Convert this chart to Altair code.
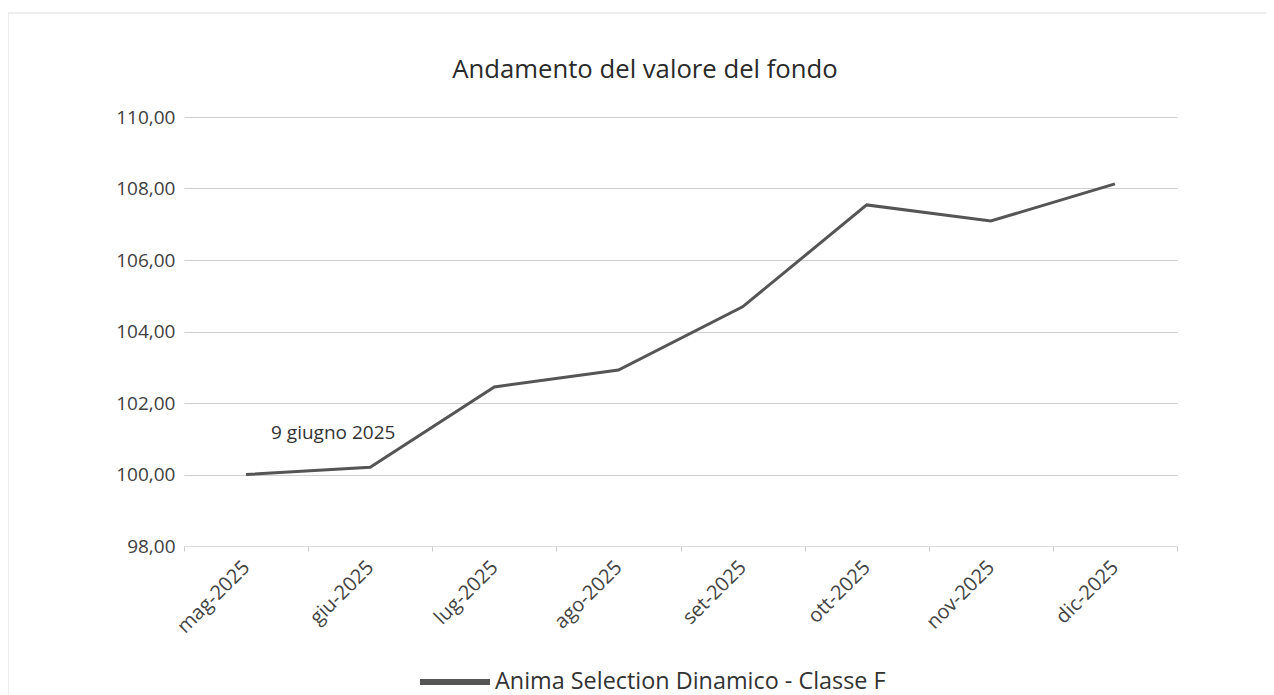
import altair as alt
import pandas as pd

months = ["mag-2025", "giu-2025", "lug-2025", "ago-2025", "set-2025", "ott-2025", "nov-2025", "dic-2025"]
values = [100.00, 100.20, 102.45, 102.92, 104.69, 107.54, 107.09, 108.13]
series_name = "Anima Selection Dinamico - Classe F"
title_text = ["Andamento del valore del fondo"]
note_text = ["9 giugno 2025"]
note_month = ["giu-2025"]
note_value = [101.16]

df = pd.DataFrame({"month": months, "value": values, "series": [series_name] * len(months)})
notes = pd.DataFrame({"month": note_month, "value": note_value, "label": note_text})

FONT = "Open Sans"

x_enc = alt.X(
    "month:N",
    sort=months,
    bandPosition=0.5,
    scale=alt.Scale(type="band", paddingInner=0, paddingOuter=0, domain=months),
    axis=alt.Axis(
        title=None,
        labelAngle=-45,
        labelAlign="right",
        labelBaseline="middle",
        labelFontSize=20,
        labelColor="#444444",
        labelFont=FONT,
        labelPadding=13,
        tickBand="extent",
        tickSize=5,
        tickColor="#cccccc",
        domainColor="#dddddd",
        grid=False,
    ),
)
y_scale = alt.Scale(domain=[98, 110], nice=False, zero=False)
y_enc = alt.Y(
    "value:Q",
    scale=y_scale,
    axis=alt.Axis(
        title=None,
        values=[98, 100, 102, 104, 106, 108, 110],
        labelExpr="replace(format(datum.value, '.2f'), '.', ',')",
        labelFontSize=19,
        labelColor="#404040",
        labelFont=FONT,
        labelPadding=9,
        ticks=False,
        domain=False,
        grid=True,
        gridColor="#cfcfcf",
        gridWidth=1,
    ),
)

line = alt.Chart(df).mark_line(strokeWidth=3, strokeJoin="miter").encode(
    x=x_enc,
    y=y_enc,
    color=alt.Color(
        "series:N",
        scale=alt.Scale(range=["#555555"]),
        legend=alt.Legend(
            title=None,
            orient="none",
            legendX=233,
            legendY=527,
            symbolType="stroke",
            symbolSize=4900,
            symbolStrokeWidth=6,
            labelFontSize=23.4,
            labelColor="#333333",
            labelFont=FONT,
            labelLimit=800,
            labelOffset=2,
            padding=0,
        ),
    ),
)

note = alt.Chart(notes).mark_text(
    fontSize=19, font=FONT, color="#333333", dx=-37, align="center", baseline="middle"
).encode(
    x=alt.X("month:N", sort=months, bandPosition=0.5),
    y=alt.Y("value:Q", scale=y_scale),
    text="label:N",
)

title = alt.Chart(pd.DataFrame({"t": title_text})).mark_text(
    fontSize=25.7, font=FONT, color="#2a2a2a", align="center", baseline="alphabetic"
).encode(x=alt.value(461), y=alt.value(-39), text="t:N")

frame = alt.Chart(pd.DataFrame({"a": [0]})).mark_rect(
    fill=None, stroke="#dddddd", strokeWidth=1
).encode(
    x=alt.value(-176), x2=alt.value(1200), y=alt.value(-104), y2=alt.value(700)
)

chart = alt.layer(frame, title, line, note).properties(
    width=993,
    height=429,
    autosize=alt.AutoSizeParams(type="none"),
    padding={"left": 176, "top": 109, "right": 89, "bottom": 149},
).configure_view(stroke=None)

chart.save("out.html", embed_options={"renderer": "svg", "actions": False})
